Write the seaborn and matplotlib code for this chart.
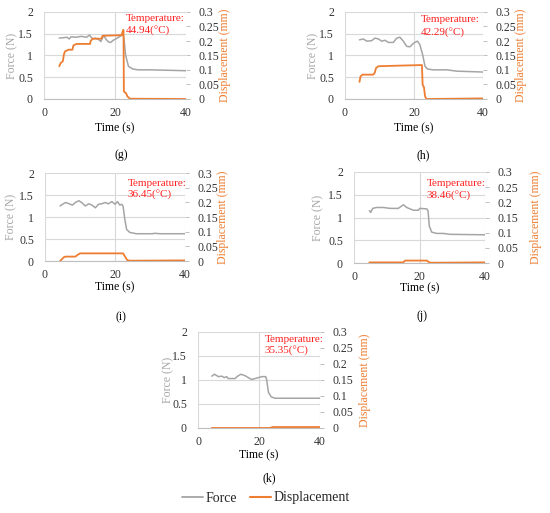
import numpy as np
import pandas as pd
import matplotlib
matplotlib.use("Agg")
import matplotlib.pyplot as plt
from matplotlib.lines import Line2D
import seaborn as sns

sns.set_style("white")
plt.rcParams['font.family'] = ['Liberation Serif', 'DejaVu Serif']

# ---------------- data ----------------
panel_ids = ["g", "h", "i", "j", "k"]
temperatures = ["44.94", "42.29", "36.45", "38.46", "35.35"]

t_force_g = [4.3, 5.5, 6.5, 7.1, 7.6, 9.0, 10.5, 12.0, 12.8, 13.3, 13.8, 14.5, 15.5, 16.0, 16.8, 17.6, 18.2,
             18.8, 19.5, 20.2, 21.0, 21.6, 22.1, 22.5, 23.0, 23.8, 25.0, 26.5, 30, 35, 40]
force_g = [1.40, 1.41, 1.42, 1.38, 1.43, 1.42, 1.44, 1.42, 1.47, 1.42, 1.38, 1.40, 1.36, 1.32, 1.46, 1.36, 1.31,
           1.30, 1.35, 1.38, 1.42, 1.45, 1.52, 1.40, 1.00, 0.75, 0.69, 0.67, 0.67, 0.66, 0.65]
t_disp_g = [4.3, 4.7, 5.3, 5.6, 5.9, 6.9, 8.0, 8.3, 9.2, 13.0, 13.1, 13.7, 16.2, 16.5, 21.9, 22.3, 22.4, 22.5,
            23.1, 23.5, 24.2, 40]
disp_g = [0.113, 0.124, 0.13, 0.153, 0.164, 0.17, 0.17, 0.185, 0.19, 0.19, 0.199, 0.208, 0.208, 0.218, 0.220,
          0.238, 0.238, 0.026, 0.02, 0.009, 0.001, 0.0]

t_force_h = [4.2, 5.3, 6.3, 7.7, 8.7, 9.7, 10.6, 11.6, 12.6, 14.0, 15.0, 15.9, 16.9, 17.9, 18.8, 20.0, 21.0,
             21.7, 22.5, 23.2, 23.9, 25.6, 29.5, 32.4, 40]
force_h = [1.36, 1.38, 1.33, 1.34, 1.40, 1.38, 1.33, 1.35, 1.30, 1.30, 1.40, 1.42, 1.33, 1.21, 1.20, 1.29, 1.33,
           1.25, 1.02, 0.75, 0.69, 0.67, 0.67, 0.64, 0.62]
t_disp_h = [4.2, 4.5, 5.1, 8.2, 8.6, 9.0, 9.7, 15.5, 22.3, 22.5, 22.9, 23.2, 23.6, 40]
disp_h = [0.059, 0.078, 0.084, 0.084, 0.09, 0.107, 0.113, 0.115, 0.117, 0.049, 0.04, 0.009, 0.0, 0.002]

t_force_i = [4.3, 5.0, 5.9, 6.9, 7.8, 8.7, 9.7, 10.6, 11.5, 12.5, 13.4, 14.4, 15.3, 16.2, 17.2, 18.1, 19.1,
             20.0, 20.7, 21.4, 21.9, 22.3, 22.8, 23.3, 24.2, 26.1, 30.8, 31.3, 32.7, 40]
force_i = [1.25, 1.29, 1.33, 1.30, 1.27, 1.33, 1.37, 1.32, 1.25, 1.30, 1.27, 1.21, 1.29, 1.30, 1.33, 1.30, 1.35,
           1.29, 1.35, 1.27, 1.29, 1.25, 0.95, 0.72, 0.65, 0.62, 0.62, 0.63, 0.62, 0.62]
t_disp_i = [4.3, 5.4, 5.9, 8.7, 9.2, 10.0, 22.3, 23.5, 24.2, 40]
disp_i = [0.0, 0.013, 0.015, 0.015, 0.02, 0.026, 0.026, 0.003, 0.001, 0.002]

t_force_j = [4.7, 5.1, 5.7, 6.9, 9.0, 11.0, 13.5, 14.5, 15.1, 16.1, 17.1, 18.1, 19.6, 20.1, 22.2, 22.6, 23.0,
             23.7, 25.2, 27.3, 29.3, 40]
force_j = [1.15, 1.11, 1.20, 1.22, 1.22, 1.20, 1.20, 1.25, 1.28, 1.22, 1.19, 1.16, 1.16, 1.20, 1.19, 1.15, 0.81,
           0.68, 0.65, 0.65, 0.63, 0.62]
t_disp_j = [4.7, 15.0, 15.6, 22.2, 23.2, 25.0, 40]
disp_j = [0.002, 0.002, 0.008, 0.008, 0.001, 0.001, 0.002]

t_force_k = [4.5, 5.4, 6.7, 7.8, 8.6, 9.4, 9.9, 12.1, 13.0, 14.1, 15.4, 16.5, 17.6, 18.7, 19.8, 20.9, 22.2,
             22.5, 23.1, 24.0, 25.2, 40]
force_k = [1.08, 1.12, 1.07, 1.08, 1.05, 1.07, 1.03, 1.03, 1.08, 1.12, 1.09, 1.05, 1.01, 1.03, 1.05, 1.07, 1.07,
           1.01, 0.74, 0.65, 0.62, 0.62]
t_disp_k = [4.5, 23.5, 24.5, 40]
disp_k = [0.0, 0.0, 0.003, 0.003]

force_ticks = [0, 0.5, 1, 1.5, 2]
force_tick_labels = ["0", "0.5", "1", "1.5", "2"]
disp_ticks = [0, 0.05, 0.1, 0.15, 0.2, 0.25, 0.3]
disp_tick_labels = ["0", "0.05", "0.1", "0.15", "0.2", "0.25", "0.3"]
time_ticks = [0, 20, 40]

series = {
    "g": (t_force_g, force_g, t_disp_g, disp_g),
    "h": (t_force_h, force_h, t_disp_h, disp_h),
    "i": (t_force_i, force_i, t_disp_i, disp_i),
    "j": (t_force_j, force_j, t_disp_j, disp_j),
    "k": (t_force_k, force_k, t_disp_k, disp_k),
}

# ---------------- layout (pixels) ----------------
W, H = 550, 513
boxes = {
    "g": (44, 186, 12, 99),
    "h": (345, 483, 12, 99),
    "i": (45, 185, 173, 261),
    "j": (354, 485, 172, 263),
    "k": (198, 320, 332, 428),
}
force_label_x = {"g": 12, "h": 313, "i": 11, "j": 318, "k": 168}
disp_label_x = {"g": 225, "h": 521, "i": 223, "j": 536, "k": 365}
time_label_y = {"g": 128, "h": 128, "i": 287, "j": 288, "k": 455}
panel_label_pos = {"g": (121, 155), "h": (423, 155), "i": (121, 317), "j": (422, 316), "k": (269, 478)}
temp_pos = {"g": (23.0, 1.85, 1.57), "h": (22.0, 1.82, 1.51), "i": (23.6, 1.77, 1.49),
            "j": (22.2, 1.75, 1.47), "k": (21.9, 1.85, 1.60)}

GRAY = "#A5A5A5"
ORANGE = "#ED7D31"
GRID = "#D9D9D9"
TXT = "#333333"
RED = "#FF2020"
HALF = 6  # half label height in px

fig = plt.figure(figsize=(W / 100, H / 100), dpi=100)

for pid, temp in zip(panel_ids, temperatures):
    l, r, t, b = boxes[pid]
    ax = fig.add_axes([l / W, 1 - b / H, (r - l) / W, (b - t) / H])
    tf, f, td, d = series[pid]
    sns.lineplot(x=tf, y=f, ax=ax, color=GRAY, linewidth=1.1, estimator=None, sort=False, legend=False)
    ax.set_xlim(0, 40)
    ax.set_ylim(0, 2)
    ax.set_xticks(time_ticks)
    ax.set_xticklabels([str(v) for v in time_ticks])
    ax.set_yticks(force_ticks)
    ax.set_yticklabels(force_tick_labels)
    ax.grid(True, color=GRID, linewidth=0.8)
    for s in ["top", "left", "right"]:
        ax.spines[s].set_visible(False)
    ax.spines["bottom"].set_color("#BFBFBF")
    ax.tick_params(axis="y", length=0, labelsize=8.5, colors=TXT, pad=8)
    ax.tick_params(axis="x", length=0, labelsize=8.5, colors=TXT, pad=6)
    ax.set_xlabel("Time (s)", fontsize=8.5, color="black")
    ax.set_ylabel("Force (N)", fontsize=8.5, color=GRAY)
    w_px = r - l
    h_px = b - t
    ax.yaxis.set_label_coords((force_label_x[pid] + HALF - l) / w_px, 0.5)
    ax.xaxis.set_label_coords(0.5, -(time_label_y[pid] - HALF - b) / h_px)

    ax2 = ax.twinx()
    sns.lineplot(x=td, y=d, ax=ax2, color=ORANGE, linewidth=1.3, estimator=None, sort=False, legend=False)
    ax2.set_ylim(0, 0.3)
    ax2.set_yticks(disp_ticks)
    ax2.set_yticklabels(disp_tick_labels)
    for s in ["top", "left", "right", "bottom"]:
        ax2.spines[s].set_visible(False)
    ax2.tick_params(axis="y", length=3, width=0.7, labelsize=8.5, labelcolor=TXT, pad=6,
                    direction="out", color="#BFBFBF")
    ax2.set_ylabel("Displacement (mm)", fontsize=8.5, color=ORANGE)
    ax2.yaxis.set_label_coords((disp_label_x[pid] - HALF - l) / w_px, 0.5)

    tx, y1, y2 = temp_pos[pid]
    ax.text(tx, y1, "Temperature:", color=RED, fontsize=8, va="center", ha="left", zorder=5)
    ax.text(tx, y2, temp + "(°C)", color=RED, fontsize=8, va="center", ha="left", zorder=5)

    px, py = panel_label_pos[pid]
    fig.text(px / W, 1 - py / H, f"({pid})", fontsize=8.5, ha="center", va="center", color="black")

handles = [Line2D([], [], color=GRAY, linewidth=1.3), Line2D([], [], color=ORANGE, linewidth=1.5)]
fig.legend(handles, ["Force", "Displacement"], loc="center", bbox_to_anchor=(266 / W, 1 - 498 / H),
           ncol=2, frameon=False, fontsize=10, handlelength=1.5, handletextpad=0.2, columnspacing=0.9)

fig.savefig("out.png", dpi=100)
